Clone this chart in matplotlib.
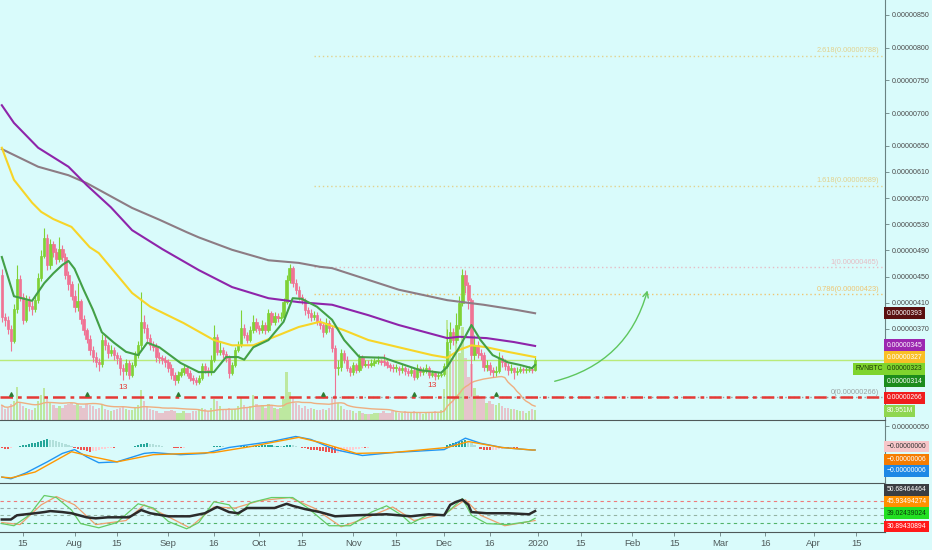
import numpy as np
import pandas as pd
import matplotlib
matplotlib.use("Agg")
import matplotlib.pyplot as plt
import matplotlib.dates as mdates

# Tageskerzen RVN/BTC, 08.07.2019 - 31.12.2019, Preise in Satoshi (1e-8 BTC)
start_day = "2019-07-08"
first_open = 452
close = [
    388, 383, 370, 352, 400, 447, 419, 384, 414, 405,
    400, 414, 448, 482, 509, 468, 500, 488, 477, 492,
    480, 452, 438, 420, 403, 412, 385, 368, 355, 338,
    327, 320, 316, 353, 345, 333, 338, 330, 325, 310,
    305, 318, 300, 315, 330, 345, 381, 372, 356, 345,
    343, 327, 325, 322, 319, 310, 300, 292, 300, 304,
    310, 303, 295, 292, 289, 295, 313, 307, 304, 323,
    358, 335, 338, 332, 326, 303, 315, 338, 345, 371,
    361, 353, 368, 381, 371, 368, 376, 368, 394, 381,
    390, 386, 388, 411, 445, 463, 440, 430, 419, 414,
    399, 394, 388, 391, 381, 376, 365, 379, 371, 341,
    310, 312, 333, 323, 310, 304, 315, 307, 326, 315,
    317, 315, 318, 321, 321, 320, 319, 315, 312, 310,
    310, 307, 310, 306, 303, 307, 297, 310, 304, 307,
    310, 300, 303, 298, 300, 301, 313, 350, 365, 353,
    376, 410, 452, 437, 414, 330, 345, 333, 330, 312,
    315, 307, 304, 305, 326, 319, 314, 307, 310, 304,
    306, 309, 307, 307, 309, 308, 323]
high = [
    462, 395, 390, 376, 408, 468, 452, 425, 422, 420,
    412, 420, 455, 490, 524, 515, 508, 505, 494, 510,
    498, 486, 458, 444, 430, 440, 416, 392, 372, 360,
    344, 334, 326, 362, 360, 350, 346, 342, 334, 330,
    316, 324, 322, 320, 336, 352, 426, 392, 378, 362,
    352, 348, 334, 330, 328, 324, 316, 304, 306, 310,
    316, 314, 308, 300, 296, 300, 318, 318, 312, 330,
    376, 362, 350, 342, 336, 330, 320, 342, 352, 399,
    378, 366, 374, 392, 386, 376, 384, 380, 400, 398,
    396, 394, 396, 418, 452, 470, 467, 446, 436, 424,
    418, 404, 400, 398, 396, 386, 380, 386, 384, 374,
    345, 322, 340, 338, 328, 314, 320, 318, 332, 330,
    322, 322, 324, 326, 328, 324, 332, 322, 318, 316,
    316, 314, 316, 314, 310, 312, 310, 316, 314, 312,
    316, 314, 308, 306, 304, 306, 318, 370, 380, 372,
    395, 420, 462, 460, 442, 418, 360, 352, 340, 334,
    322, 320, 312, 314, 334, 330, 324, 318, 316, 312,
    312, 314, 312, 312, 314, 312, 328]
low = [
    380, 375, 362, 336, 348, 395, 412, 378, 380, 398,
    392, 396, 410, 444, 478, 460, 462, 480, 470, 472,
    474, 446, 430, 414, 396, 398, 378, 360, 348, 330,
    320, 312, 306, 312, 338, 326, 328, 322, 316, 300,
    292, 300, 294, 296, 312, 326, 340, 364, 350, 338,
    336, 320, 318, 316, 312, 304, 294, 284, 288, 296,
    300, 298, 290, 286, 284, 286, 292, 302, 298, 300,
    320, 330, 330, 326, 320, 295, 300, 312, 334, 342,
    356, 348, 350, 364, 366, 362, 364, 362, 365, 376,
    376, 380, 382, 384, 408, 440, 434, 424, 414, 408,
    392, 386, 382, 384, 376, 370, 358, 362, 366, 334,
    266, 300, 305, 318, 305, 298, 300, 302, 304, 310,
    312, 310, 312, 314, 316, 315, 314, 310, 306, 304,
    304, 300, 302, 300, 298, 298, 292, 294, 298, 300,
    302, 295, 296, 292, 294, 296, 298, 310, 340, 345,
    348, 370, 405, 425, 400, 268, 322, 326, 322, 306,
    305, 300, 296, 298, 302, 312, 308, 300, 302, 294,
    300, 302, 302, 302, 304, 303, 305]
# Volumen in Mio.
volume_m = [
    120, 90, 100, 130, 150, 270, 140, 110, 100, 90, 80, 100, 150, 200,
    260, 180, 140, 120, 100, 110, 100, 120, 130, 140, 120, 130, 110, 100, 130, 120, 110, 90, 100, 130,
    90, 80, 70, 80, 90, 100, 110, 90, 80, 80, 100, 120,
    240, 150, 110, 90, 80, 70, 60, 60, 70, 70, 80, 70, 60, 60, 70, 60, 60, 70, 70, 80,
    100, 90, 70, 100, 170, 150, 110, 90, 80, 100, 80, 90, 110, 180, 120, 100, 110, 200, 130, 110,
    120, 100, 130, 110, 100, 90, 100, 170, 390, 230, 180, 140, 120, 100, 110, 90, 100, 90, 80, 80,
    90, 80, 100, 180, 200, 140, 110, 90, 80, 80, 70, 60, 70, 60, 50, 50, 50, 60, 60, 60,
    70, 60, 60, 70, 70, 60, 60, 70, 60, 60, 70, 60, 60, 50, 60, 60, 60, 70, 60, 80,
    250, 810, 560, 520, 700, 540, 750, 500, 350, 450, 260, 200, 180, 170, 140, 150, 130, 120, 140, 110,
    100, 100, 90, 90, 80, 70, 70, 60, 70, 90, 81]

# gleitende Durchschnitte (Index = Kerze)
ma_fast_idx = [0, 4, 10, 14, 17, 20, 22, 24, 27, 30, 33, 37, 41, 45, 48, 52, 59, 65, 70, 74,
               78, 80, 83, 88, 93, 96, 99, 104, 109, 113, 118, 126, 131, 138, 145, 147, 151,
               155, 158, 162, 167, 171, 175, 176]
ma_fast_val = [480, 420, 413, 440, 455, 468, 474, 462, 430, 400, 365, 349, 335, 330, 349, 342,
               318, 304, 304, 327, 327, 323, 342, 353, 381, 417, 416, 404, 384, 353, 327, 326,
               318, 307, 303, 312, 342, 376, 353, 330, 319, 315, 310, 315]
ma_yellow_idx = [0, 4, 10, 13, 17, 23, 29, 32, 43, 49, 60, 70, 76, 83, 90, 98, 105, 113, 121,
                 131, 142, 147, 151, 155, 160, 167, 176]
ma_yellow_val = [647, 598, 563, 549, 538, 526, 495, 486, 425, 404, 379, 353, 345, 345, 358, 373,
                 381, 368, 353, 342, 330, 326, 338, 345, 342, 335, 327]
ma_purple_idx = [0, 4, 12, 22, 28, 36, 43, 53, 65, 76, 88, 98, 109, 121, 131, 147, 151, 160, 169, 176]
ma_purple_val = [712, 685, 647, 618, 590, 556, 521, 492, 460, 434, 417, 411, 407, 391, 376, 356,
                 358, 356, 350, 344]
ma_grey_idx = [0, 12, 22, 28, 43, 52, 61, 65, 76, 88, 98, 105, 109, 121, 131, 147, 159, 170, 176]
ma_grey_val = [645, 618, 605, 593, 555, 537, 518, 510, 491, 475, 471, 465, 463, 445, 430, 414,
               407, 399, 394]

# Fibonacci-Retracement
fib_ratio = ["2.618", "1.618", "1", "0.786", "0"]
fib_price = [788, 589, 465, 423, 266]
fib_start = "2019-10-19"
support_price = 266
last_price = 323
signal_idx = [3, 28, 58, 106, 136, 163]
td13_idx = [40, 142]

# MACD (Satoshi)
macd_hist = [
    -2, -3, -3, -2,
    1, 2, 4, 5, 7, 8, 10, 11, 13, 15, 17, 19, 18, 17, 15, 13, 11, 8, 6, 3,
    -1, -3, -5, -7, -9, -10, -9, -8, -6, -4, -3, -2, -1,
    -1, 0, 0, 0, 0,
    1, 2, 3, 5, 8, 9, 10, 9, 8, 6, 5, 4, 2, 1,
    0, -1, -2, -2, -1,
    0, 0, 0, 0, 0, 0,
    1, 1, 2, 3, 4, 4, 3, 2, 2, 1, 1, 2, 3, 3, 3, 3, 4, 4, 4, 5, 5, 5, 5, 4, 4, 3, 4, 5, 6, 5, 3, 1,
    -1, -2, -4, -5, -6, -7, -8, -9, -10, -11, -12, -14, -13, -11, -9, -7, -6, -5, -4, -3, -2, -2, -1,
    0, 0, 1, 1, 2, 2, 1, 1, 1, 0, 0, 0, 0, 0, 0, 0, 0, 0, 1, 1, 0, 0, 0, 0,
    2, 5, 8, 10, 12, 14, 16, 17, 15,
    10, 5, 1, -3, -5, -7, -7, -6, -5, -4, -3, -2, -2, -1, -1, -1, 0, 0, 0, 0, 0, 0]
macd_idx = [0, 3, 8, 15, 20, 24, 28, 32, 38, 47, 50, 59, 67, 75, 89, 97, 102, 110, 119, 129,
            146, 153, 158, 165, 175, 176]
macd_val = [-70, -74, -60, -34, -14, -5, -22, -36, -34, -14, -12, -17, -14, 0, 14, 26, 19, -5,
            -19, -12, -5, 22, 10, 0, -6, -6]
signal_line_idx = [0, 3, 11, 23, 30, 38, 50, 70, 82, 98, 105, 117, 129, 147, 154, 165, 175, 176]
signal_line_val = [-70, -72, -58, -10, -22, -34, -17, -12, 2, 24, 12, -14, -12, 0, 14, 0, -6, -6]

# RSI-Panel
rsi_idx = [0, 3, 5, 11, 14, 16, 20, 23, 28, 31, 35, 42, 46, 49, 55, 62, 67, 71, 72, 75, 78, 81,
           86, 90, 94, 96, 100, 105, 110, 117, 127, 135, 141, 146, 148, 150, 152, 154, 155, 160,
           167, 174, 176]
rsi_val = [33.0, 33.0, 35.9, 37.3, 38.1, 38.8, 38.1, 37.3, 34.5, 33.8, 34.5, 34.5, 39.5, 37.3,
           35.2, 35.2, 37.3, 41.6, 40.9, 38.1, 37.3, 40.9, 40.9, 40.9, 43.8, 42.4, 40.2, 38.1,
           35.2, 35.9, 36.6, 35.2, 36.6, 35.9, 43.1, 45.2, 46.6, 43.1, 38.1, 37.3, 37.3, 36.6, 38.8]
stoch_k_idx = [0, 4, 9, 14, 18, 23, 26, 32, 38, 45, 50, 55, 61, 65, 70, 75, 78, 82, 89, 96, 101,
               108, 115, 122, 127, 132, 135, 141, 146, 152, 155, 160, 167, 174, 176]
stoch_k_val = [30.2, 28.7, 35.9, 49.5, 48.1, 39.5, 30.2, 27.3, 30.9, 43.8, 40.9, 31.6, 26.6, 30.9,
               45.2, 43.1, 35.9, 44.5, 48.1, 48.1, 40.9, 28.7, 28.7, 38.1, 42.4, 35.9, 30.2, 36.6,
               35.9, 47.4, 35.9, 30.2, 29.5, 31.6, 33.8]
stoch_d_idx = [0, 6, 13, 18, 24, 31, 41, 47, 54, 62, 70, 77, 85, 95, 103, 112, 120, 129, 136,
               146, 153, 158, 166, 176]
stoch_d_val = [30.9, 29.5, 43.1, 48.8, 43.1, 29.5, 32.3, 43.1, 35.9, 27.3, 41.6, 40.9, 45.9, 48.1,
               40.9, 28.0, 33.8, 41.6, 32.3, 36.6, 46.6, 35.9, 28.7, 32.3]
rsi_levels = [45.93, 40.9, 35.9, 30.89]

# Achsenbeschriftung
price_ticks = [850, 800, 750, 700, 650, 610, 570, 530, 490, 450, 410, 370]
xtick_dates = ["2019-07-15", "2019-08-01", "2019-08-15", "2019-09-01", "2019-09-16", "2019-10-01",
               "2019-10-15", "2019-11-01", "2019-11-15", "2019-12-01", "2019-12-16", "2020-01-01",
               "2020-01-15", "2020-02-01", "2020-02-15", "2020-03-01", "2020-03-16", "2020-04-01",
               "2020-04-15"]
xtick_labels = ["15", "Aug", "15", "Sep", "16", "Oct", "15", "Nov", "15", "Dec", "16", "2020",
                "15", "Feb", "15", "Mar", "16", "Apr", "15"]

BG = "#d9fbfb"
UP = "#7fd236"
DOWN = "#f07394"
TAG_SIZE = 4.9

plt.rcParams["font.family"] = ["Liberation Sans", "DejaVu Sans"]


def tag(axis, y, text, fc, tc="white", side="right"):
    # farbiges Preisschild an der rechten Achse
    off, ha = ((1.2, 0), "left") if side == "right" else ((-1.5, 0), "right")
    axis.annotate(text, xy=(1, y), xycoords=("axes fraction", "data"), xytext=off,
                  textcoords="offset points", ha=ha, va="center", fontsize=TAG_SIZE, color=tc,
                  bbox=dict(boxstyle="square,pad=0.35", fc=fc, ec="none"),
                  annotation_clip=False, zorder=20)


def style_panel(axis):
    axis.set_facecolor("none")
    for s in ("left", "top"):
        axis.spines[s].set_visible(False)
    axis.spines["bottom"].set_color("#4f5959")
    axis.spines["right"].set_color("#6a8282")
    axis.yaxis.tick_right()
    axis.tick_params(axis="y", labelsize=5.1, labelcolor="#4a4a4a", color="#6a8282",
                     length=3, width=0.6, pad=2)


dates = pd.date_range(start_day, periods=len(close), freq="D")
x = mdates.date2num(dates)
c = np.array(close, dtype=float)
o = np.r_[first_open, c[:-1]]
up = c >= o
col = np.where(up, UP, DOWN)

jan1 = mdates.date2num(pd.Timestamp("2020-01-01"))
x_left, x_right = jan1 - 177.6, jan1 + 114.5

fig = plt.figure(figsize=(9.32, 5.5), dpi=100, facecolor=BG)
ax = fig.add_axes([0, 0.23636, 0.9496, 0.76364])
axv = ax.twinx()
ax_macd = fig.add_axes([0, 0.12182, 0.9496, 0.11455], sharex=ax)
ax_rsi = fig.add_axes([0, 0.03273, 0.9496, 0.08909], sharex=ax)
axv.set_zorder(0)
ax.set_zorder(1)

# Volumen im Hintergrund
vcol = np.where(up, "#bde8a0", "#e6c4cc")
axv.bar(x, volume_m, width=0.78, color=vcol, zorder=1)
axv.plot(x, pd.Series(volume_m).rolling(20, min_periods=1).mean(), color="#eeae80", lw=1)
axv.set_ylim(0, 3400)
axv.set_yticks([])
for s in axv.spines.values():
    s.set_visible(False)

# Fibonacci-Linien
fx = mdates.date2num(pd.Timestamp(fib_start))
fib_colors = ["#e2d28e", "#e2d28e", "#e6bcc4", "#eec572", "#9aa3a3"]
for r, p, fc in zip(fib_ratio, fib_price, fib_colors):
    ax.hlines(p, fx, x_right, colors=fc, linestyles=(0, (1, 2)), lw=1, zorder=2)
    ax.text(x_right - 2, p + 2, f"{r}({p * 1e-8:.8f})", color=fc, fontsize=5.3,
            ha="right", va="bottom", zorder=2)

# Linien
ax.axhline(last_price, color="#b9ea78", lw=1, zorder=2)
ax.axhline(support_price, color="#e53935", lw=1.8, ls=(0, (5, 2, 1.5, 2)), zorder=5)

# Kerzen
ax.vlines(x, low, high, colors=col, lw=0.8, zorder=3)
body_bot = np.minimum(o, c)
body_h = np.maximum(np.abs(c - o), 1.5)
ax.bar(x, body_h, bottom=body_bot, width=0.8, color=col, edgecolor=col, lw=0.5, zorder=4)

ax.plot(x[ma_grey_idx], ma_grey_val, color="#8d7c84", lw=1.5, zorder=5)
ax.plot(x[ma_purple_idx], ma_purple_val, color="#8e24aa", lw=1.5, zorder=5)
ax.plot(x[ma_yellow_idx], ma_yellow_val, color="#f7d528", lw=1.5, zorder=5)
ax.plot(x[ma_fast_idx], ma_fast_val, color="#43a047", lw=1.5, zorder=5)

sig = ax.scatter(x[signal_idx], [support_price] * len(signal_idx), marker="^", s=6,
                 color="#2e7d32", zorder=6)
sig.set_offsets(np.c_[x[signal_idx], np.full(len(signal_idx), support_price + 4.0)])
for i in td13_idx:
    ax.annotate("13", xy=(x[i], low[i]), xytext=(0, -3), textcoords="offset points",
                ha="center", va="top", fontsize=6, color="#e53935", zorder=6)

# Pfeil
ax.annotate("", xy=(mdates.date2num(pd.Timestamp("2020-02-06 08:00")), 433),
            xytext=(mdates.date2num(pd.Timestamp("2020-01-05 14:00")), 289),
            arrowprops=dict(arrowstyle="->", color="#5ec65e", lw=1,
                            connectionstyle="arc3,rad=0.3"), zorder=6)

style_panel(ax)
ax.set_ylim(230.8, 872.9)
ax.set_yticks(price_ticks)
ax.set_yticklabels([f"{p * 1e-8:.8f}" for p in price_ticks])
ax.set_xlim(x_left, x_right)
ax.tick_params(axis="x", bottom=False, labelbottom=False)

tag(ax, 394, "0.00000393", "#5a1010")
tag(ax, 345, "0.00000345", "#9c27b0")
tag(ax, 327, "0.00000327", "#f9bf25")
tag(ax, 309, "0.00000323", "#7fd42e", "#1c3a06")
tag(ax, 290, "0.00000314", "#1c8c1c")
tag(ax, 265, "0.00000266", "#f01c1c")
tag(ax, 245, "80.951M", "#8fd650")
tag(ax, 309, "RVNBTC", "#7fd42e", "#1c3a06", side="left")

# MACD
h = np.array(macd_hist, dtype=float)
hp = np.r_[0, h[:-1]]
hcol = np.where(h >= 0, np.where(h >= hp, "#26a69a", "#b2dfdb"),
                np.where(h <= hp, "#ef5350", "#ffcdd2"))
ax_macd.bar(x, h, width=0.7, color=hcol, zorder=2)
ax_macd.plot(x[macd_idx], macd_val, color="#2196f3", lw=1, zorder=3)
ax_macd.plot(x[signal_line_idx], signal_line_val, color="#ff9800", lw=1, zorder=3)
style_panel(ax_macd)
ax_macd.set_ylim(-84, 65)
ax_macd.set_yticks([50])
ax_macd.set_yticklabels(["0.00000050"])
ax_macd.tick_params(axis="x", bottom=False, labelbottom=False)
tag(ax_macd, 2.4, "\u22120.00000000", "#f7c6c9", "#333333")
tag(ax_macd, -29, "\u22120.00000006", "#f57c00")
tag(ax_macd, -55, "\u22120.00000006", "#1e88e5")

# RSI
for lvl, lc in zip(rsi_levels, ["#ef7a7a", "#9aaaaa", "#93b3a3", "#52b36a"]):
    ax_rsi.axhline(lvl, color=lc, ls=(0, (3, 3)), lw=0.8, zorder=1)
ax_rsi.plot(x[stoch_d_idx], stoch_d_val, color="#f0a070", lw=0.9, zorder=2)
ax_rsi.plot(x[stoch_k_idx], stoch_k_val, color="#66cc66", lw=0.9, zorder=2)
ax_rsi.plot(x[rsi_idx], rsi_val, color="#2b2b2b", lw=1.8, zorder=3)
style_panel(ax_rsi)
ax_rsi.set_ylim(24.4, 58.1)
ax_rsi.set_yticks([])
ax_rsi.set_xticks(mdates.date2num(pd.to_datetime(xtick_dates)))
ax_rsi.set_xticklabels(xtick_labels)
ax_rsi.tick_params(axis="x", labelsize=6.8, labelcolor="#4f5b5b", color="#6a8282",
                   length=3, width=0.6, pad=2)
tag(ax_rsi, 53.3, "50.68464464", "#3a3d42")
tag(ax_rsi, 45.4, "45.93494274", "#ff9100")
tag(ax_rsi, 37.3, "39.02439024", "#22e022", "#0b3b0b")
tag(ax_rsi, 28.2, "30.89430894", "#ff1a1a")

fig.savefig("out.png", dpi=100, facecolor=BG)
